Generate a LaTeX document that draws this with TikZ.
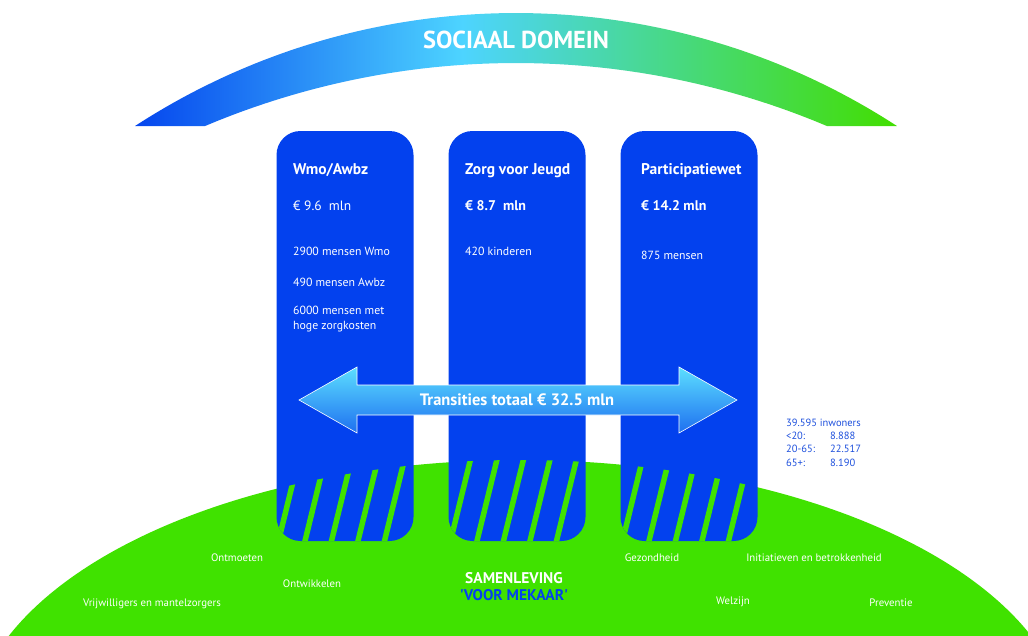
\documentclass[tikz,border=0pt]{standalone}
\usepackage{fontspec}
\setmainfont{PT Sans}
\usepackage{tikz}
\usetikzlibrary{calc}

\definecolor{pillarblue}{RGB}{3,65,238}
\definecolor{hillgreen}{RGB}{64,226,0}
\definecolor{arcblue}{RGB}{5,70,238}
\definecolor{arccyan}{RGB}{77,212,255}
\definecolor{arcgreen}{RGB}{66,222,0}
\definecolor{infoblue}{RGB}{30,80,220}
\definecolor{arrowtop}{RGB}{92,222,255}
\definecolor{arrowbot}{RGB}{30,112,240}

\pgfdeclarehorizontalshading{arcshade}{100bp}{color(0bp)=(arcblue); color(25bp)=(arcblue); color(46.5bp)=(arccyan); color(75bp)=(arcgreen); color(100bp)=(arcgreen)}

\tikzset{
  pillar/.style={fill=pillarblue, rounded corners=24pt, minimum width=137pt, minimum height=410pt, inner sep=0pt, outer sep=0pt},
  stripe/.style={hillgreen, line width=5.5pt},
  ptitle/.style={white, anchor=base west, inner sep=0pt, font=\bfseries\fontsize{15.5}{18}\selectfont},
  pmoney/.style={white, anchor=base west, inner sep=0pt, font=\fontsize{13.5}{16}\selectfont},
  pmoneyb/.style={pmoney, font=\bfseries\fontsize{14}{16}\selectfont},
  psmall/.style={white, anchor=base west, inner sep=0pt, align=left, font=\fontsize{11.8}{15}\selectfont},
  ground/.style={white, anchor=base, inner sep=0pt, font=\fontsize{10.8}{12}\selectfont},
  groundbig/.style={ground, font=\bfseries\fontsize{15.5}{17}\selectfont},
}

\begin{document}
\begin{tikzpicture}[x=1pt,y=-1pt]
\useasboundingbox (0,0) rectangle (1028,635);
\clip (0,0) rectangle (1028,635);
%% sociaal domein arc
\shade[shading=arcshade] plot[domain=-33.04:33.04,samples=90] ({516+698.8*sin(\x)},{711.8-698.8*cos(\x)})
  -- plot[domain=22.91:-22.91,samples=90] ({516+799*sin(\x)},{862-799*cos(\x)}) -- cycle;
\node[white, anchor=base, inner sep=0pt, font=\bfseries\fontsize{24.5}{26}\selectfont] (domein) at (516,48.5) {SOCIAAL DOMEIN};

%% hill
\fill[hillgreen] (520,739) ellipse [x radius=550, y radius=279];

%% pillars
\node[pillar] (wmo) at (345,336) {};
\node[pillar] (jeugd) at (517,336) {};
\node[pillar] (part) at (689,336) {};
\foreach \p in {wmo,jeugd,part} {
  \begin{scope}
    \clip[rounded corners=24pt] (\p.south west) rectangle (\p.north east);
    \clip (520,739) ellipse [x radius=550, y radius=279];
    \foreach \k in {0,...,4}
      \draw[stripe] ($(\p.south west)+(1+26.5*\k,4)$) -- ++(27,-110);
  \end{scope}
}

%% pillar texts
\node[ptitle] (wmotitle) at (293,174.5) {Wmo/Awbz};
\node[pmoney] (wmomoney) at (293,210) {€ 9.6~ mln};
\node[psmall] (wmo1) at (293,255) {2900 mensen Wmo};
\node[psmall] (wmo2) at (293,286) {490 mensen Awbz};
\node[psmall] (wmo3) at (293,329) {6000 mensen met\\hoge zorgkosten};
\node[ptitle] (jeugdtitle) at (465,174.5) {Zorg voor Jeugd};
\node[pmoneyb] (jeugdmoney) at (465,210) {€ 8.7~ mln};
\node[psmall] (jeugd1) at (465,255) {420 kinderen};
\node[ptitle] (parttitle) at (641,174.5) {Participatiewet};
\node[pmoneyb] (partmoney) at (641,210) {€ 14.2 mln};
\node[psmall] (part1) at (641,259) {875 mensen};

%% transities arrow
\shade[top color=arrowtop, bottom color=arrowbot, draw=white, line width=0.6pt]
  (299,400) -- (357,367) -- (357,385) -- (679,385) -- (679,367) -- (737,400)
  -- (679,433) -- (679,415) -- (357,415) -- (357,433) -- cycle;
\node[white, anchor=base, inner sep=0pt, font=\bfseries\fontsize{16.5}{18}\selectfont] (transities) at (517,405) {Transities totaal € 32.5 mln};

%% inwoners
\node[infoblue, anchor=base west, inner sep=0pt, align=left, font=\fontsize{10.5}{13.3}\selectfont] (inwoners) at (786,466)
  {39.595 inwoners\\\makebox[44pt][l]{<20:}8.888\\\makebox[44pt][l]{20-65:}22.517\\\makebox[44pt][l]{65+:}8.190};

%% samenleving
\node[ground] (ontmoeten) at (237,561.5) {Ontmoeten};
\node[ground] (ontwikkelen) at (312,587.5) {Ontwikkelen};
\node[ground] (vrijwilligers) at (152,606.5) {Vrijwilligers en mantelzorgers};
\node[groundbig] (samenleving) at (514,583) {SAMENLEVING};
\node[groundbig, pillarblue] (mekaar) at (514,600) {\textquotesingle VOOR MEKAAR\textquotesingle};
\node[ground] (gezondheid) at (652,561.5) {Gezondheid};
\node[ground] (initiatieven) at (814,561.5) {Initiatieven en betrokkenheid};
\node[ground] (welzijn) at (733,604.5) {Welzijn};
\node[ground] (preventie) at (891,606.5) {Preventie};
\end{tikzpicture}
\end{document}
